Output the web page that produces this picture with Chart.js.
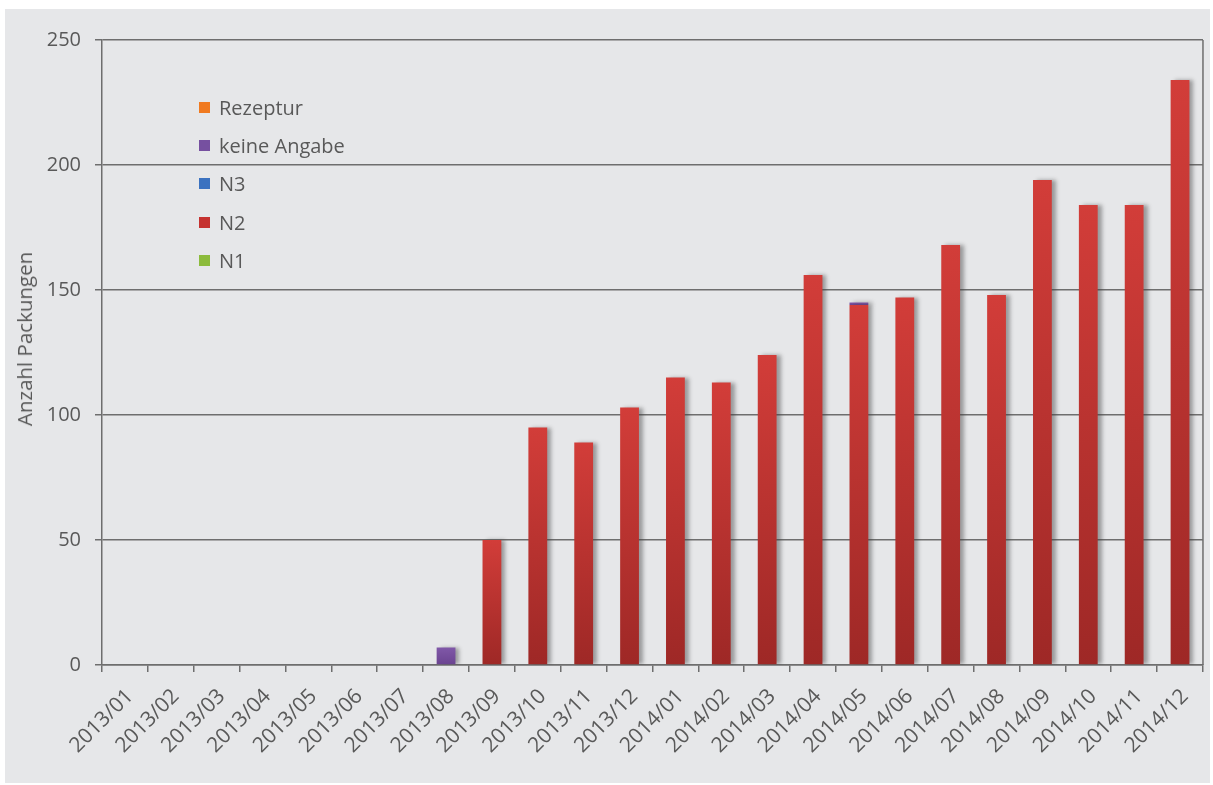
<!DOCTYPE html>
<html>
<head>
<meta charset="utf-8">
<script src="https://cdn.jsdelivr.net/npm/chart.js@4"></script>
<style>
  html, body { margin: 0; padding: 0; background: #ffffff; }
  #wrap { position: absolute; left: 5px; top: 9px; width: 1205px; height: 774px; background: #e6e7e9; }
  #c { position: absolute; left: 0; top: 0; }
  #legend { position: absolute; left: 194px; top: 79px; font-family: 'Open Sans', sans-serif; font-size: 20px; color: #595959; }
  .li { height: 38.3px; display: flex; align-items: center; }
  .sw { width: 11px; height: 11px; margin-right: 9px; }
  #ytitle { position: absolute; left: 19px; top: 330px; transform: translate(-50%, -50%) rotate(-90deg); white-space: nowrap;
            font-family: 'Open Sans', sans-serif; font-size: 20.5px; color: #595959; }
</style>
</head>
<body>
<div id="wrap">
  <canvas id="c" width="1205" height="774"></canvas>
  <div id="legend"></div>
  <div id="ytitle"></div>
</div>
<script>
const categories = ['2013/01','2013/02','2013/03','2013/04','2013/05','2013/06','2013/07','2013/08','2013/09','2013/10','2013/11','2013/12',
  '2014/01','2014/02','2014/03','2014/04','2014/05','2014/06','2014/07','2014/08','2014/09','2014/10','2014/11','2014/12'];
const n1 =          [0,0,0,0,0,0,0,0, 0, 0, 0,  0,  0,  0,  0,  0,  0,  0,  0,  0,  0,  0,  0,  0];
const n2 =          [0,0,0,0,0,0,0,0,50,95,89,103,115,113,124,156,144,147,168,148,194,184,184,234];
const n3 =          [0,0,0,0,0,0,0,0, 0, 0, 0,  0,  0,  0,  0,  0,  0,  0,  0,  0,  0,  0,  0,  0];
const keineAngabe = [0,0,0,0,0,0,0,7, 0, 0, 0,  0,  0,  0,  0,  0,  1,  0,  0,  0,  0,  0,  0,  0];
const rezeptur =    [0,0,0,0,0,0,0,0, 0, 0, 0,  0,  0,  0,  0,  0,  0,  0,  0,  0,  0,  0,  0,  0];
const yTicks = [0, 50, 100, 150, 200, 250];
const yTitle = 'Anzahl Packungen';

const FONT = "'Open Sans', sans-serif";
const TXT = '#595959';
const GRID = '#6e6e6e';

function grad(top, bottom) {
  return (ctx) => {
    const chart = ctx.chart;
    if (!chart.chartArea || ctx.type !== 'data') return top;
    const ys = chart.scales.y;
    const v = ctx.raw || 0;
    if (!v) return top;
    let start = 0;
    for (let i = 0; i < ctx.datasetIndex; i++) start += chart.data.datasets[i].data[ctx.dataIndex] || 0;
    const y0 = ys.getPixelForValue(start), y1 = ys.getPixelForValue(start + v);
    if (!isFinite(y0) || !isFinite(y1) || y0 === y1) return top;
    const g = chart.ctx.createLinearGradient(0, y1, 0, y0);
    g.addColorStop(0, top);
    g.addColorStop(1, bottom);
    return g;
  };
}

const series = [
  { label: 'N1', data: n1, c: ['#9bc84a', '#76a232'], sw: '#8cbb3c' },
  { label: 'N2', data: n2, c: ['#d23d39', '#9e2826'], sw: '#c53230' },
  { label: 'N3', data: n3, c: ['#4a80cc', '#2c5ea6'], sw: '#3b72c0' },
  { label: 'keine Angabe', data: keineAngabe, c: ['#8058a8', '#6a4390'], sw: '#7650a0' },
  { label: 'Rezeptur', data: rezeptur, c: ['#f58a30', '#e06a10'], sw: '#f07a20' }
];

const shadowPlugin = {
  id: 'shadow',
  beforeDatasetsDraw(chart) {
    const ctx = chart.ctx;
    ctx.save();
    ctx.shadowColor = 'rgba(60,60,60,0.45)';
    ctx.shadowOffsetX = 4;
    ctx.shadowOffsetY = 0;
    ctx.shadowBlur = 4;
  },
  afterDatasetsDraw(chart) { chart.ctx.restore(); }
};

const rightLine = {
  id: 'rightLine',
  afterDraw(chart) {
    const { ctx, chartArea } = chart;
    ctx.save();
    ctx.strokeStyle = GRID;
    ctx.lineWidth = 1.5;
    ctx.beginPath();
    ctx.moveTo(chartArea.right, chartArea.top);
    ctx.lineTo(chartArea.right, chartArea.bottom);
    ctx.stroke();
    ctx.restore();
  }
};

new Chart(document.getElementById('c'), {
  type: 'bar',
  data: {
    labels: categories,
    datasets: series.map(s => ({
      label: s.label,
      data: s.data,
      backgroundColor: grad(s.c[0], s.c[1]),
      borderWidth: 0,
      barPercentage: 0.41,
      categoryPercentage: 1.0
    }))
  },
  options: {
    responsive: false,
    animation: false,
    devicePixelRatio: 1,
    layout: { padding: { top: 31, right: 7, left: 0, bottom: 0 } },
    plugins: { legend: { display: false }, tooltip: { enabled: false } },
    scales: {
      x: {
        stacked: true,
        offset: true,
        grid: { display: true, drawOnChartArea: false, drawTicks: true, tickLength: 7, offset: true, color: GRID, lineWidth: 1.5 },
        border: { display: true, color: GRID, width: 1.5 },
        ticks: { color: TXT, font: { family: FONT, size: 21 }, maxRotation: 45, minRotation: 45, autoSkip: false, padding: 12, labelOffset: 5 },
        afterFit(scale) { scale.height = 118; }
      },
      y: {
        stacked: true,
        min: 0, max: 250,
        afterBuildTicks(scale) { scale.ticks = yTicks.map(v => ({ value: v })); },
        grid: { color: GRID, lineWidth: 1.5, tickLength: 7, drawTicks: true },
        border: { display: true, color: GRID, width: 1.5 },
        ticks: { color: TXT, font: { family: FONT, size: 20 }, padding: 14 },
        afterFit(scale) { scale.width = 97; }
      }
    }
  },
  plugins: [shadowPlugin, rightLine]
});

document.getElementById('ytitle').textContent = yTitle;
const lg = document.getElementById('legend');
series.slice().reverse().forEach(s => {
  const d = document.createElement('div');
  d.className = 'li';
  const sw = document.createElement('span');
  sw.className = 'sw';
  sw.style.background = s.sw;
  const t = document.createElement('span');
  t.textContent = s.label;
  d.appendChild(sw); d.appendChild(t);
  lg.appendChild(d);
});
</script>
</body>
</html>
